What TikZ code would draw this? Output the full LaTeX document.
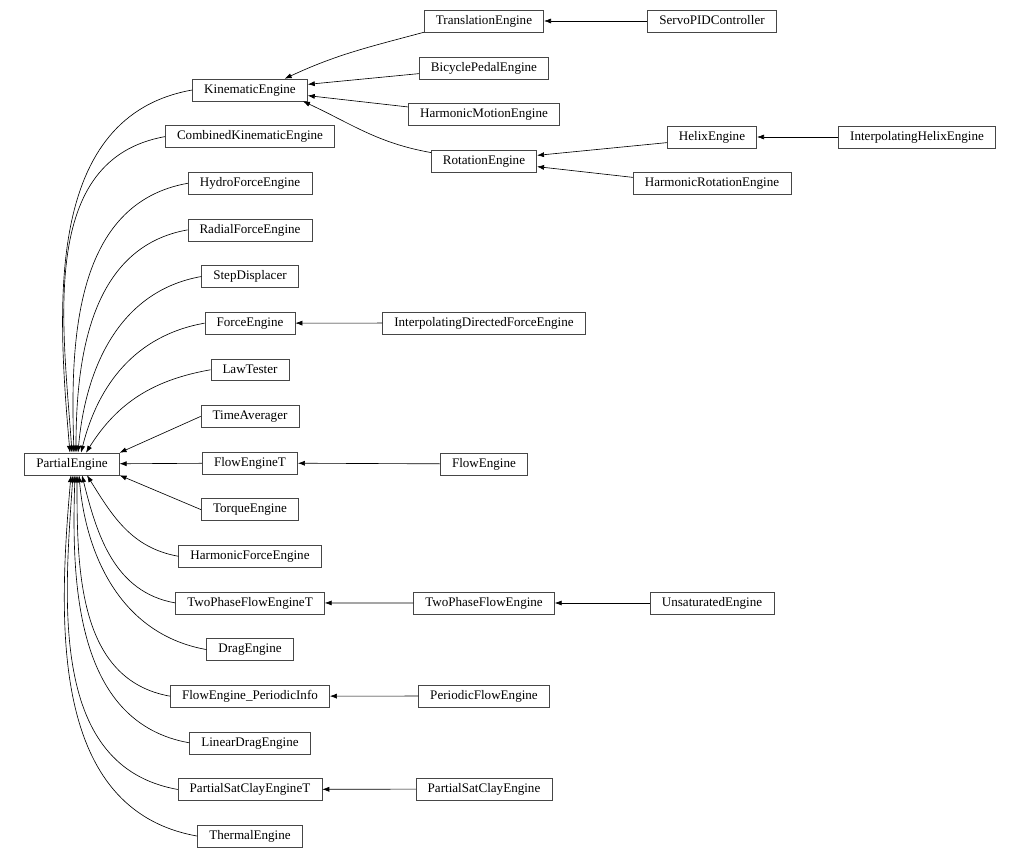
\documentclass[tikz,border=0pt]{standalone}
\usepackage{fontspec}
\setmainfont{Liberation Serif}
\usetikzlibrary{arrows.meta, calc, positioning}

\begin{document}
\begin{tikzpicture}[x=0.025cm, y=-0.025cm,
        cls/.style={draw=gray!55!black, minimum height=15.6pt, inner xsep=8.3pt, inner ysep=2pt,
          text height=6.6pt, text depth=1.9pt, font=\fontsize{9.3}{11}\selectfont},
        e/.style={-{Latex[length=5pt, width=3.6pt]}, line width=0.45pt}]
        \useasboundingbox (0,0) rectangle (1020,859);

        \node[cls] (PartialEngine) at (72,464) {PartialEngine};

        % second column
        \foreach \nm/\txt [count=\i from 0] in {KinematicEngine/KinematicEngine,
            CombinedKinematicEngine/CombinedKinematicEngine, HydroForceEngine/HydroForceEngine,
            RadialForceEngine/RadialForceEngine, StepDisplacer/StepDisplacer, ForceEngine/ForceEngine,
            LawTester/LawTester, TimeAverager/TimeAverager, FlowEngineT/FlowEngineT,
            TorqueEngine/TorqueEngine, HarmonicForceEngine/HarmonicForceEngine,
            TwoPhaseFlowEngineT/TwoPhaseFlowEngineT, DragEngine/DragEngine,
            FlowEnginePeriodicInfo/FlowEngine\_PeriodicInfo, LinearDragEngine/LinearDragEngine,
            PartialSatClayEngineT/PartialSatClayEngineT, ThermalEngine/ThermalEngine}
        \node[cls] (\nm) at (250, 90+46.63*\i) {\txt};

        % third and fourth column
        \foreach \nm/\x/\y in {TranslationEngine/484/21, BicyclePedalEngine/484/68,
            HarmonicMotionEngine/484/114, RotationEngine/484/161,
            InterpolatingDirectedForceEngine/484/323, FlowEngine/484/464,
            TwoPhaseFlowEngine/484/603, PeriodicFlowEngine/484/696, PartialSatClayEngine/484/789,
            ServoPIDController/712/21, HelixEngine/712/137, HarmonicRotationEngine/712/183,
            UnsaturatedEngine/712/603, InterpolatingHelixEngine/917/137}
        \node[cls] (\nm) at (\x,\y) {\nm};

        % edges into PartialEngine
        \foreach \nm/\dx/\ang in {KinematicEngine/-2/95, CombinedKinematicEngine/0/94,
            HydroForceEngine/2/92, RadialForceEngine/4/90, StepDisplacer/6/85,
            ForceEngine/9/76, LawTester/14/58}
        \draw[e] (\nm.west) to[out=190, in=\ang] ($(PartialEngine.north)+(\dx,0)$);

        \foreach \nm/\dx/\ang in {HarmonicForceEngine/15/-58, TwoPhaseFlowEngineT/10/-76,
            DragEngine/7/-85, FlowEnginePeriodicInfo/5/-90, LinearDragEngine/3/-92,
            PartialSatClayEngineT/1/-94, ThermalEngine/-1/-95}
        \draw[e] (\nm.west) to[out=170, in=\ang] ($(PartialEngine.south)+(\dx,0)$);

        \draw[e] (TimeAverager.west) -- (PartialEngine.north east);
        \draw[e] (FlowEngineT) -- (PartialEngine);
        \draw[e] (TorqueEngine.west) -- (PartialEngine.south east);

        % edges into KinematicEngine
        \draw[e] (TranslationEngine.south west) to[out=195, in=25] (KinematicEngine.18);
        \draw[e] ([yshift=-4pt]BicyclePedalEngine.west) -- ([yshift=4pt]KinematicEngine.east);
        \draw[e] ([yshift=5pt]HarmonicMotionEngine.west) -- ([yshift=-4pt]KinematicEngine.east);
        \draw[e] ([yshift=6pt]RotationEngine.west) to[out=170, in=-25] (KinematicEngine.-12);

        % edges into RotationEngine
        \draw[e] ([yshift=-4pt]HelixEngine.west) -- ([yshift=4pt]RotationEngine.east);
        \draw[e] ([yshift=4pt]HarmonicRotationEngine.west) -- ([yshift=-4pt]RotationEngine.east);

        % straight chains
        \foreach \a/\b in {ServoPIDController/TranslationEngine, InterpolatingHelixEngine/HelixEngine,
            InterpolatingDirectedForceEngine/ForceEngine, FlowEngine/FlowEngineT,
            TwoPhaseFlowEngine/TwoPhaseFlowEngineT, UnsaturatedEngine/TwoPhaseFlowEngine,
            PeriodicFlowEngine/FlowEnginePeriodicInfo, PartialSatClayEngine/PartialSatClayEngineT}
        \draw[e] (\a) -- (\b);
      \end{tikzpicture}
\end{document}
